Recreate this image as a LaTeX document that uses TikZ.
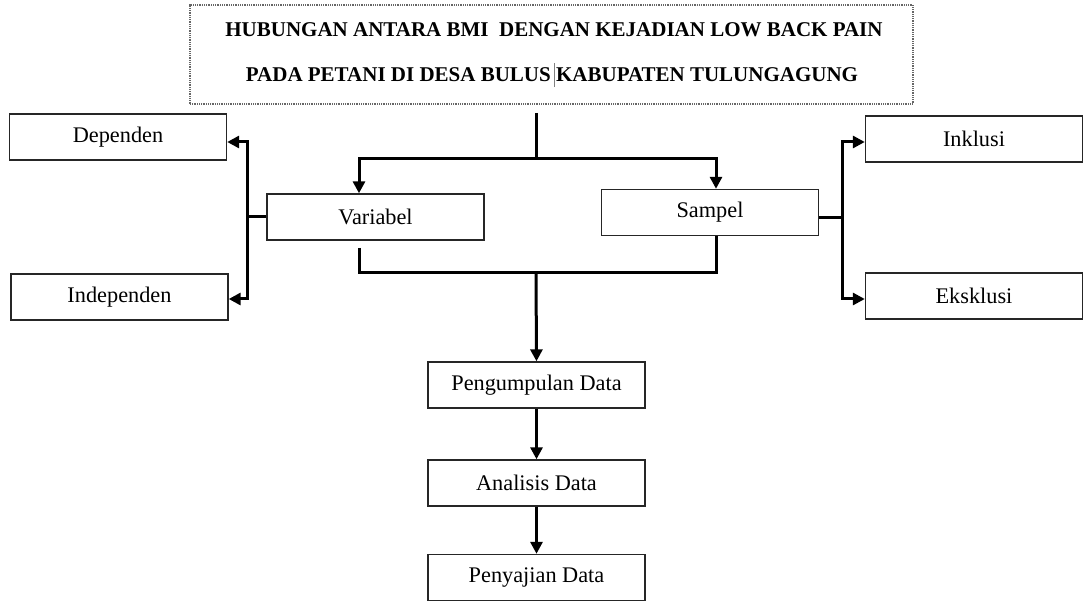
\documentclass[tikz,border=0pt]{standalone}
\usepackage{fontspec}
\setmainfont{Liberation Serif}
\usetikzlibrary{arrows.meta,calc}
\begin{document}
\begin{tikzpicture}[x=1pt,y=-1pt,
  box/.style={draw=black!85, line width=1.4pt, minimum width=217pt, minimum height=46pt, inner sep=0pt, font=\fontsize{22.3}{26}\selectfont, text=black},
  conn/.style={line width=3pt, black},
  arr/.style={conn, -{Triangle[length=12pt,width=12pt]}},
  titlebox/.style={draw=black!60, line width=1.6pt, dash pattern=on 1pt off 0.8pt, minimum width=723pt, minimum height=99pt, inner sep=0pt}
]
\useasboundingbox (0,0) rectangle (1086,601);

\node[titlebox] (title) at (551.5,54.5) {};
\node[font=\fontsize{21}{24}\selectfont\bfseries, text=black] (t1) at (554,30) {HUBUNGAN ANTARA BMI\ \ DENGAN KEJADIAN LOW BACK PAIN};
\node[font=\fontsize{21}{24}\selectfont\bfseries, text=black] (t2) at (552,75) {PADA PETANI DI DESA BULUS \makebox[0pt][r]{\color{black!50}\rule[-0.25em]{0.7pt}{1.15em}\hspace{0.05em}}KABUPATEN TULUNGAGUNG};

\node[box] (dep) at (118,137) {Dependen};
\node[box] (indep) at (119.5,297) {Independen};
\node[box] (var) at (375.5,217) {Variabel};
\node[box] (samp) at (710,212.5) {Sampel};
\node[box] (inkl) at (974,139) {Inklusi};
\node[box] (eks) at (974,296) {Eksklusi};
\node[box] (peng) at (536.5,385) {Pengumpulan Data};
\node[box] (anal) at (536.5,483) {Analisis Data};
\node[box] (peny) at (536.5,577.5) {Penyajian Data};

% top trunk
\coordinate (ts) at (536,113);
\coordinate (tj) at (536,159);
\coordinate (vx) at (359,0);
\coordinate (sx) at (716,0);
\draw[conn] (ts) -- (tj);
\draw[arr] (tj) -| (vx |- var.north);
\draw[arr] (tj) -| (sx |- samp.north);

% bottom merge
\coordinate (vb) at (359,248);
\coordinate (bj) at (536,273);
\draw[conn] (vb) |- (bj) -| (sx |- samp.south);
\draw[arr] (bj) -- (peng.north);

% left branch
\coordinate (lj) at (247,217);
\draw[conn] (var.west) -- (lj);
\draw[arr] (lj) |- ($(dep.east)+(0,5)$);
\draw[arr] (lj) |- ($(indep.east)+(0,2)$);

% right branch
\coordinate (rj) at (842,218);
\draw[conn] ($(samp.east)+(0,5.5)$) -- (rj);
\draw[arr] (rj) |- ($(inkl.west)+(0,3)$);
\draw[arr] (rj) |- ($(eks.west)+(0,3)$);

% chain
\draw[arr] (peng.south) -- (anal.north);
\draw[arr] (anal.south) -- (peny.north);
\end{tikzpicture}
\end{document}
